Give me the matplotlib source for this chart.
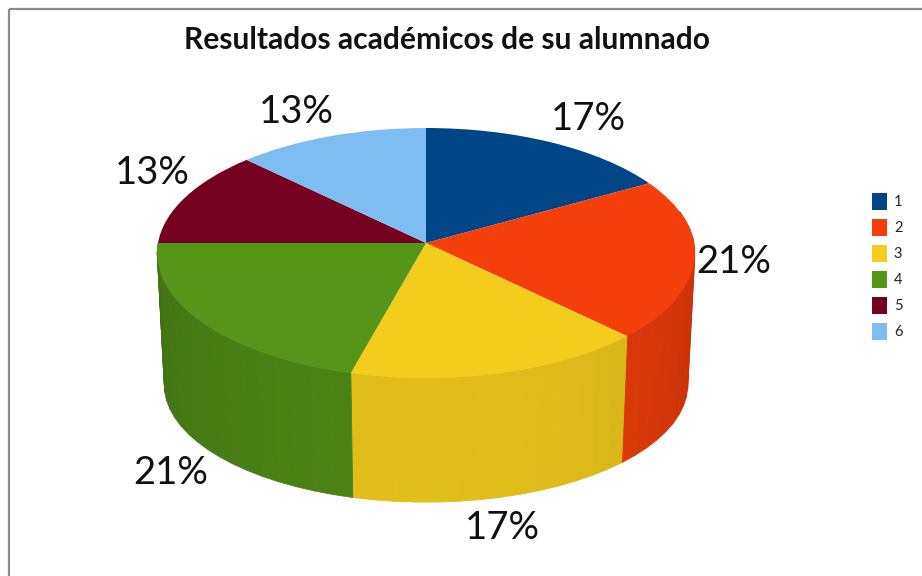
import numpy as np
import matplotlib
matplotlib.use('Agg')
import matplotlib.pyplot as plt
from matplotlib.patches import Rectangle
from matplotlib.transforms import Transform

plt.rcParams['font.family'] = ['Lato', 'DejaVu Sans']

categories = ['1', '2', '3', '4', '5', '6']
counts = [4, 5, 4, 5, 3, 3]
pct_labels = ['17%', '21%', '17%', '21%', '13%', '13%']
colors = ['#004586', '#F43F0A', '#F3CC1C', '#559619', '#75001F', '#7DBDF2']
title = 'Resultados académicos de su alumnado'

# where each percentage sits, in pixels of the picture
label_pos = [(588, 119), (734, 262), (502, 528), (171, 473), (152, 173), (296, 112)]


class Tilt(Transform):
    # turns the flat unit pie into a tilted disc, nearer side a bit bigger
    input_dims = 2
    output_dims = 2

    def __init__(self, cx, cy, rx, ry, k=0.08):
        super().__init__()
        self.cx, self.cy, self.rx, self.ry, self.k = cx, cy, rx, ry, k

    def transform_non_affine(self, values):
        values = np.asarray(values, dtype=float)
        w = 1 + self.k * values[:, 1]
        return np.column_stack([self.cx + self.rx * values[:, 0] / w,
                                self.cy - self.ry * values[:, 1] / w])


top = Tilt(426, 243, 268, 124.2)
bottom = Tilt(426, 375, 261, 117)


def darker(color, f):
    return tuple(c * f for c in matplotlib.colors.to_rgb(color))


fig = plt.figure(figsize=(9.22, 5.76), dpi=100)
ax = fig.add_axes([0, 0, 1, 1])

wedges, _ = ax.pie(counts, colors=colors, startangle=90, counterclock=False)
ax.set_aspect('auto')
ax.set_xlim(0, 922)
ax.set_ylim(576, 0)
ax.axis('off')

# side wall, made of narrow bands so the shading steps like the original
edges = np.cumsum([0] + counts) / sum(counts) * 2 * np.pi
for i, color in enumerate(colors):
    a0 = max(edges[i], np.radians(75))
    a1 = min(edges[i + 1], np.radians(270))
    if a1 <= a0:
        continue
    n = max(int(np.degrees(a1 - a0) / 4), 1)
    steps = np.linspace(a0, a1, n + 1)
    for s0, s1 in zip(steps[:-1], steps[1:]):
        ring = np.array([[np.sin(s0), np.cos(s0)], [np.sin(s1), np.cos(s1)]])
        pts = np.vstack([top.transform_non_affine(ring),
                         bottom.transform_non_affine(ring[::-1])])
        shade = 0.80 - 0.13 * np.cos((s0 + s1) / 2)
        if i == 3:
            shade *= 0.94  # the green wall is a bit darker in the original
        c = darker(color, shade)
        ax.fill(pts[:, 0], pts[:, 1], color=c, lw=0.6, zorder=1)

for w in wedges:
    w.set_transform(top + ax.transData)
    w.set_zorder(2)

for text, (x, y) in zip(pct_labels, label_pos):
    ax.text(x, y, text, fontsize=27.5, ha='center', va='center', color='#111111', zorder=3)

ax.text(447, 40, title, fontsize=21.6, fontweight='bold', ha='center', va='center', color='#111111')

ax.legend(wedges, categories, loc='upper left', bbox_to_anchor=(859, 180),
          bbox_transform=ax.transData, frameon=False, fontsize=10.5,
          handlelength=1.04, handleheight=1.37, handletextpad=0.45, labelspacing=0.65,
          labelcolor='#222233')

ax.add_patch(Rectangle((9, 9), 1000, 1000, fill=False, edgecolor='#8C8C8C', lw=1.6, zorder=0))

fig.savefig('out.png', dpi=100)
